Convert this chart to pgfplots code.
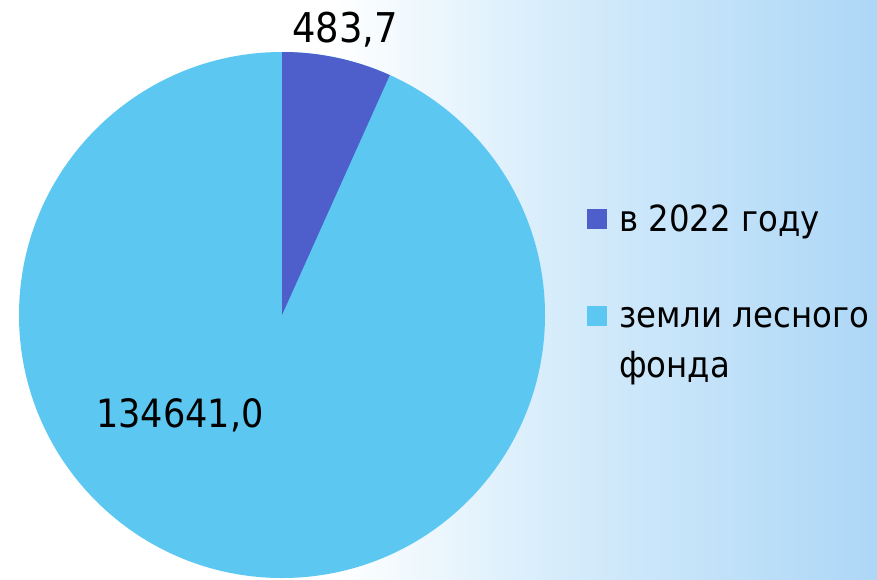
\documentclass[border=0pt]{standalone}
\usepackage{pgfplots}
\pgfplotsset{compat=1.18}
\usepackage{fontspec}
\setmainfont{DejaVu Sans Condensed}
\definecolor{sliceA}{HTML}{4E5FCC}
\definecolor{sliceB}{HTML}{5CC8F1}
\definecolor{bgA}{HTML}{D8EDFB}
\definecolor{bgB}{HTML}{ADD7F7}
\pgfdeclarehorizontalshading{bgshade}{100bp}{color(0bp)=(white); color(25bp)=(white); color(44bp)=(white); color(56bp)=(bgA); color(75bp)=(bgB); color(100bp)=(bgB)}
% displayed sector angles (degrees)
\def\angA{24.2}
\def\valA{483,7}
\def\valB{134641,0}
\begin{document}
\begin{tikzpicture}[x=1pt,y=1pt]
\fill[shading=bgshade] (0,0) rectangle (877,579);
\begin{axis}[
  at={(282pt,264pt)}, anchor=center,
  scale only axis, width=526pt, height=526pt,
  xmin=-1, xmax=1, ymin=-1, ymax=1,
  hide axis, clip=false]
\pgfmathsetmacro{\endA}{90-\angA}
\fill[sliceB] (axis cs:0,0) -- (axis cs:0,1) arc[start angle=90, end angle=-270, radius=263pt] -- cycle;
\fill[sliceA] (axis cs:0,0) -- (axis cs:0,1) arc[start angle=90, end angle=\endA, radius=263pt] -- cycle;
\end{axis}
\node[anchor=base west, inner sep=0pt, font=\fontsize{41}{48}\selectfont] at (292,536) {\valA};
\node[anchor=base west, inner sep=0pt, font=\fontsize{39}{46}\selectfont] at (96,152) {\valB};
\fill[sliceA] (587,350) rectangle (607,370);
\fill[sliceB] (587,253) rectangle (607,273);
\node[anchor=base west, inner sep=0pt, font=\fontsize{36}{44}\selectfont] at (619,347) {в 2022 году};
\node[anchor=base west, inner sep=0pt, font=\fontsize{36}{44}\selectfont] at (619,252) {земли лесного};
\node[anchor=base west, inner sep=0pt, font=\fontsize{36}{44}\selectfont] at (619,202) {фонда};
\end{tikzpicture}
\end{document}
